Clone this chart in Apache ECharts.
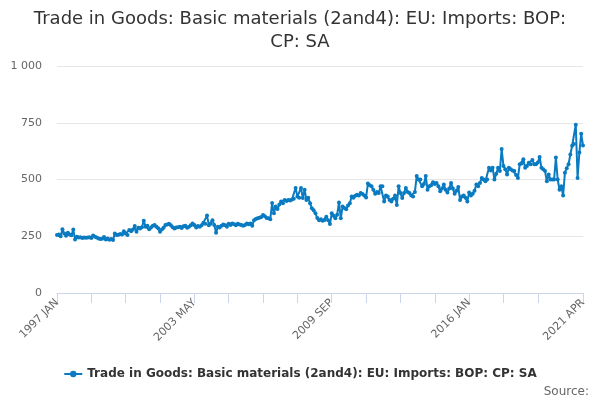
<!DOCTYPE html>
<html lang="en">
<head>
    <meta charset="utf-8">
    <title>Trade in Goods: Basic materials (2and4): EU: Imports</title>
    <script src="https://cdn.jsdelivr.net/npm/echarts@6/dist/echarts.min.js"></script>
    <style type="text/css">
        html, body {
            margin: 0;
            padding: 0;
            background: #fff;
        }
    </style>
</head>
<body>
<div id="main" style="width: 600px;height:400px"></div>

<script type="text/javascript">
    var seriesName = 'Trade in Goods: Basic materials (2and4): EU: Imports: BOP: CP: SA';
    var months = ['JAN', 'FEB', 'MAR', 'APR', 'MAY', 'JUN', 'JUL', 'AUG', 'SEP', 'OCT', 'NOV', 'DEC'];
    var firstYear = 1997;
    var yTicks = [0, 250, 500, 750, 1000];

    // monthly values, one row per year (£ million)
    var values = [
        255, 258, 250, 281, 262, 252, 265, 258, 254, 280, 236, 248,   // 1997
        244, 246, 242, 245, 243, 244, 246, 242, 253, 248, 244, 240,   // 1998
        238, 239, 247, 236, 240, 235, 238, 234, 262, 255, 257, 260,   // 1999
        258, 272, 262, 256, 277, 272, 280, 295, 270, 287, 284, 290,   // 2000
        318, 292, 296, 281, 288, 296, 300, 292, 285, 270, 280, 287,   // 2001
        300, 302, 305, 298, 290, 284, 288, 290, 292, 286, 294, 296,   // 2002
        287, 292, 298, 306, 300, 289, 295, 292, 298, 310, 305, 341,   // 2003
        299, 305, 321, 300, 265, 292, 288, 296, 302, 298, 292, 305,   // 2004
        300, 306, 303, 298, 305, 302, 300, 296, 300, 306, 303, 306,   // 2005
        296, 321, 326, 329, 332, 335, 344, 338, 330, 329, 325, 396,   // 2006
        351, 381, 370, 390, 403, 395, 410, 405, 410, 408, 412, 415,   // 2007
        463, 425, 420, 463, 418, 455, 410, 420, 395, 373, 365, 351,   // 2008
        330, 321, 325, 318, 322, 336, 320, 304, 351, 340, 329, 345,   // 2009
        399, 329, 381, 375, 369, 385, 395, 425, 420, 428, 433, 430,   // 2010
        440, 436, 430, 421, 482, 475, 470, 455, 437, 445, 440, 470,   // 2011
        470, 403, 430, 425, 410, 403, 415, 430, 388, 470, 440, 418,   // 2012
        440, 463, 445, 440, 430, 425, 445, 515, 500, 500, 470, 480,   // 2013
        515, 455, 470, 475, 488, 480, 485, 470, 448, 460, 478, 455,   // 2014
        443, 460, 485, 460, 437, 450, 467, 410, 425, 430, 420, 403,   // 2015
        443, 430, 437, 450, 478, 470, 485, 507, 500, 492, 500, 552,   // 2016
        540, 552, 500, 525, 552, 537, 634, 560, 545, 522, 552, 545,   // 2017
        540, 537, 520, 507, 567, 570, 589, 552, 560, 574, 567, 586,   // 2018
        567, 567, 575, 599, 552, 545, 537, 492, 522, 500, 500, 500,   // 2019
        597, 500, 455, 470, 429, 530, 550, 567, 610, 649, 656, 741,   // 2020
        507, 619, 701, 650                                            // 2021
    ];

    var categories = [];
    for (var i = 0; i < values.length; i++) {
        categories.push((firstYear + Math.floor(i / 12)) + ' ' + months[i % 12]);
    }
    var lastIdx = values.length - 1;

    var myChart = echarts.init(document.getElementById('main'));
    var option = {
        animation: false,
        textStyle: {fontFamily: 'DejaVu Sans'},
        title: {
            text: 'Trade in Goods: Basic materials (2and4): EU: Imports: BOP:\nCP: SA',
            left: 'center',
            top: 3,
            textStyle: {
                fontFamily: 'DejaVu Sans',
                fontSize: 18,
                fontWeight: 'normal',
                color: '#333333',
                lineHeight: 23
            }
        },
        legend: {
            data: [seriesName],
            bottom: 15,
            left: 'center',
            itemWidth: 18,
            itemHeight: 8,
            itemGap: 4,
            textStyle: {
                fontFamily: 'DejaVu Sans',
                fontSize: 12,
                fontWeight: 'bold',
                color: '#333333'
            }
        },
        graphic: [{
            type: 'text',
            right: 11,
            bottom: 2,
            style: {
                text: 'Source:',
                font: '12px "DejaVu Sans"',
                fill: '#666666'
            }
        }],
        grid: {
            left: 57,
            right: 17,
            top: 66,
            bottom: 107
        },
        xAxis: {
            type: 'category',
            data: categories,
            boundaryGap: false,
            axisLine: {lineStyle: {color: '#ccd6eb'}},
            axisTick: {
                length: 10,
                lineStyle: {color: '#ccd6eb'},
                interval: function (idx) {
                    return (idx % 19 === 0 && idx <= lastIdx - 20) || idx === lastIdx;
                }
            },
            axisLabel: {
                rotate: 45,
                fontSize: 11,
                color: '#666666',
                margin: 8,
                interval: function (idx) {
                    return idx % 76 === 0 || idx === lastIdx;
                }
            },
            splitLine: {show: false}
        },
        yAxis: {
            type: 'value',
            min: yTicks[0],
            max: yTicks[yTicks.length - 1],
            interval: yTicks[1] - yTicks[0],
            axisLine: {show: false},
            axisTick: {show: false},
            axisLabel: {
                fontSize: 11,
                color: '#666666',
                margin: 15,
                formatter: function (v) {
                    return v >= 1000 ? String(v).replace(/\B(?=(\d{3})+(?!\d))/g, ' ') : v;
                }
            },
            splitLine: {lineStyle: {color: '#e6e6e6'}}
        },
        series: [{
            name: seriesName,
            type: 'line',
            data: values,
            symbol: 'circle',
            symbolSize: 4,
            showAllSymbol: true,
            itemStyle: {color: '#0a7bc1'},
            lineStyle: {width: 2, color: '#0a7bc1'}
        }]
    };
    myChart.setOption(option);
</script>
</body>
</html>
